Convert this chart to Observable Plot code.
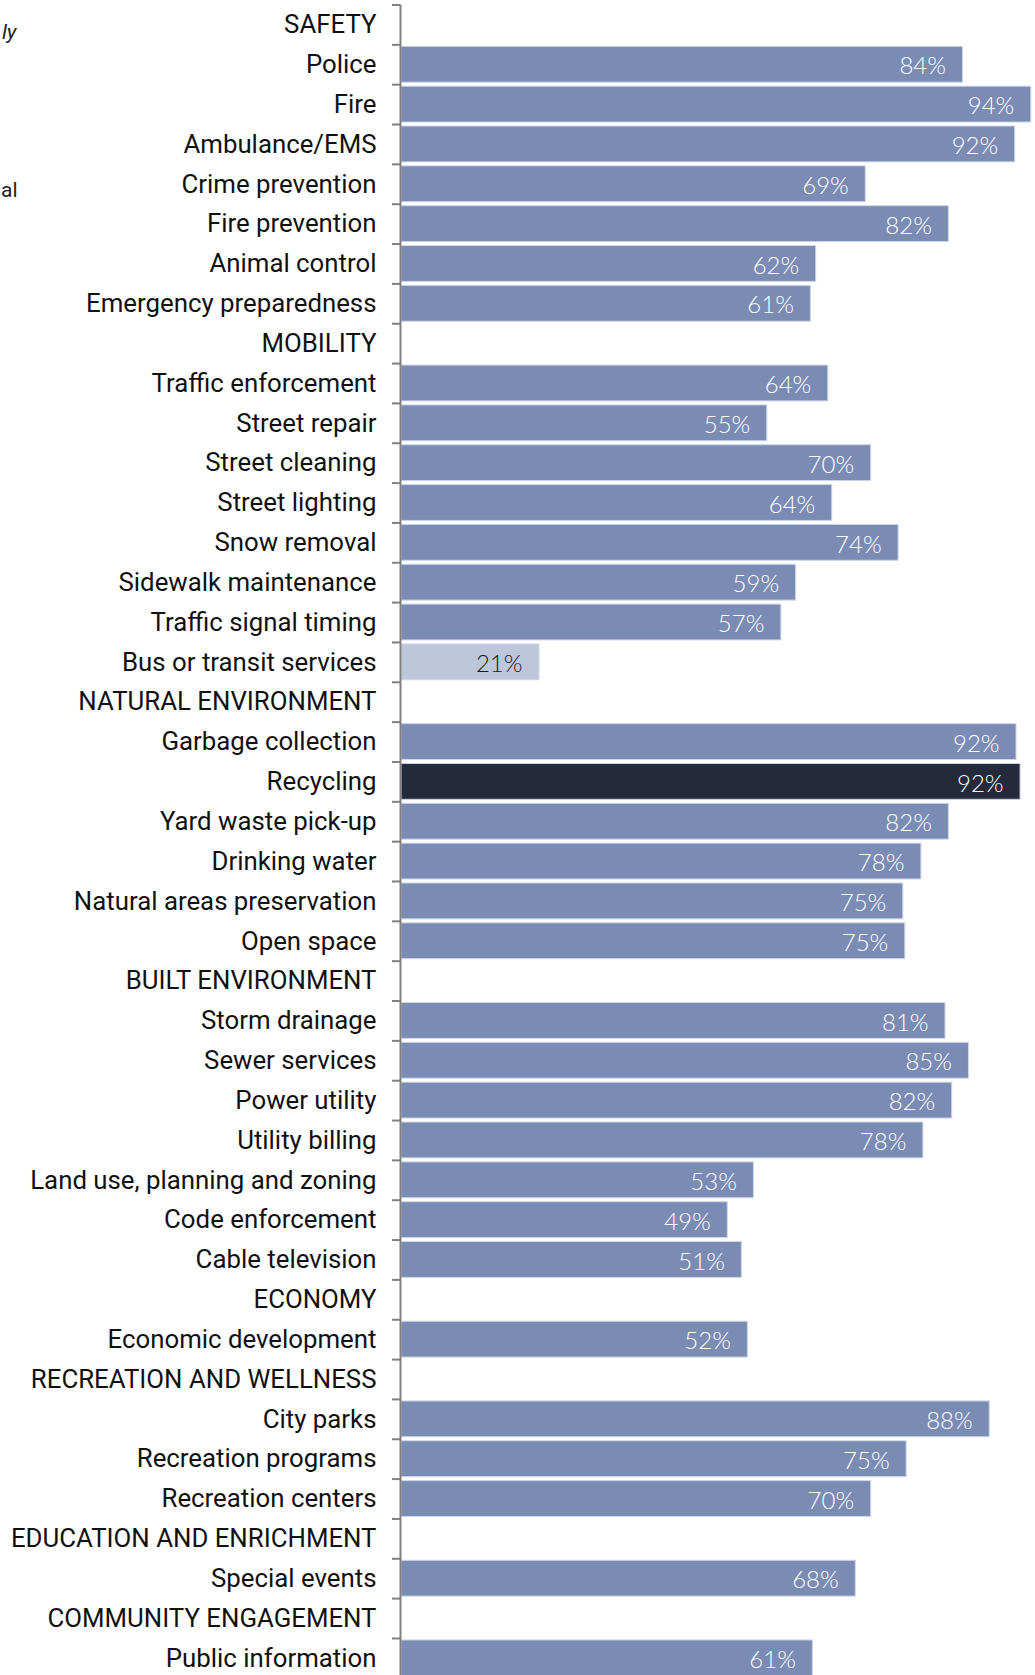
<!DOCTYPE html>
<html><head><meta charset="utf-8">
<script src="https://cdn.jsdelivr.net/npm/d3@7"></script>
<script src="https://cdn.jsdelivr.net/npm/@observablehq/plot@0.6"></script>
<style>
html,body{margin:0;padding:0;background:#fff;}
#chart svg{display:block;}
</style></head><body><div id="chart"></div>
<script>
// Service categories (section headers in capitals have no bar)
const services = [
  "SAFETY", "Police", "Fire", "Ambulance/EMS", "Crime prevention", "Fire prevention", "Animal control", "Emergency preparedness",
  "MOBILITY", "Traffic enforcement", "Street repair", "Street cleaning", "Street lighting", "Snow removal", "Sidewalk maintenance", "Traffic signal timing", "Bus or transit services",
  "NATURAL ENVIRONMENT", "Garbage collection", "Recycling", "Yard waste pick-up", "Drinking water", "Natural areas preservation", "Open space",
  "BUILT ENVIRONMENT", "Storm drainage", "Sewer services", "Power utility", "Utility billing", "Land use, planning and zoning", "Code enforcement", "Cable television",
  "ECONOMY", "Economic development",
  "RECREATION AND WELLNESS", "City parks", "Recreation programs", "Recreation centers",
  "EDUCATION AND ENRICHMENT", "Special events",
  "COMMUNITY ENGAGEMENT", "Public information"
];
// Percent rating excellent or good (null = section header)
const ratings = [
  null, 83.8, 94.0, 91.6, 69.3, 81.7, 61.9, 61.1,
  null, 63.7, 54.6, 70.1, 64.3, 74.2, 58.9, 56.7, 20.6,
  null, 91.8, 92.4, 81.7, 77.6, 74.9, 75.2,
  null, 81.2, 84.7, 82.2, 77.9, 52.6, 48.7, 50.8,
  null, 51.7,
  null, 87.8, 75.4, 70.1,
  null, 67.8,
  null, 61.4
];
// Comparison to benchmark
const comparison = [
  null, "similar", "similar", "similar", "similar", "similar", "similar", "similar",
  null, "similar", "similar", "similar", "similar", "similar", "similar", "similar", "lower",
  null, "similar", "higher", "similar", "similar", "similar", "similar",
  null, "similar", "similar", "similar", "similar", "similar", "similar", "similar",
  null, "similar",
  null, "similar", "similar", "similar",
  null, "similar",
  null, "similar"
];
const comparisonKeys = ["similar", "lower", "higher"];
const comparisonColors = ["#7b8cb4", "#bdc6da", "#242a3c"];
// Cropped legend text fragments visible at the left edge
const legendFragments = [
  {text: "ly", italic: true, dx: -385, dy: 38},
  {text: "al", italic: false, dx: -384, dy: 196}
];

const rows = services.map((s, i) => ({service: s, value: ratings[i], comparison: comparison[i]}));
const bars = rows.filter(d => d.value != null);

const step = (1677.8 - 4.5) / services.length;

const chart = Plot.plot({
  width: 1035,
  height: 1675,
  marginLeft: 401,
  marginRight: 0,
  marginTop: 0,
  marginBottom: 0,
  style: {background: "#fff"},
  x: {domain: [0, 94.63], axis: null},
  y: {domain: services, range: [4.5, 1677.8], paddingInner: 0.1, paddingOuter: 0.05, round: false, axis: null},
  color: {domain: comparisonKeys, range: comparisonColors},
  marks: [
    Plot.barX(bars, {x: "value", y: "service", fill: "comparison", stroke: "#cfd6e6", strokeWidth: 1}),
    Plot.ruleX([0], {stroke: "#808080", strokeWidth: 2, insetTop: 4.5, dx: -1}),
    Plot.ruleY(rows, {y: "service", x1: 0, x2: 0, insetLeft: -8, dx: -1, dy: -step / 2, stroke: "#808080", strokeWidth: 2}),
    Plot.text(bars.filter(d => d.comparison !== "lower"), {
      x: "value", y: "service", text: d => Math.round(d.value) + "%",
      textAnchor: "end", dx: -17, dy: 2, fill: "#ffffff",
      fontSize: 24, fontFamily: "Lato", fontWeight: 300
    }),
    Plot.text(bars.filter(d => d.comparison === "lower"), {
      x: "value", y: "service", text: d => Math.round(d.value) + "%",
      textAnchor: "end", dx: -17, dy: 2, fill: "#1a1a1a",
      fontSize: 24, fontFamily: "Lato", fontWeight: 300
    }),
    Plot.text(rows, {
      x: 0, y: "service", text: "service", textAnchor: "end", dx: -25,
      fontSize: 25.8, fontFamily: "Roboto", fill: "#111111"
    }),
    ...legendFragments.map(f => Plot.text([f], {
      frameAnchor: "top-left", text: "text", textAnchor: "end", lineAnchor: "bottom",
      dx: f.dx, dy: f.dy, fontSize: 21, fontFamily: "Roboto",
      fontStyle: f.italic ? "italic" : "normal", fill: "#222222"
    }))
  ]
});
document.getElementById("chart").appendChild(chart);
</script>
</body></html>
